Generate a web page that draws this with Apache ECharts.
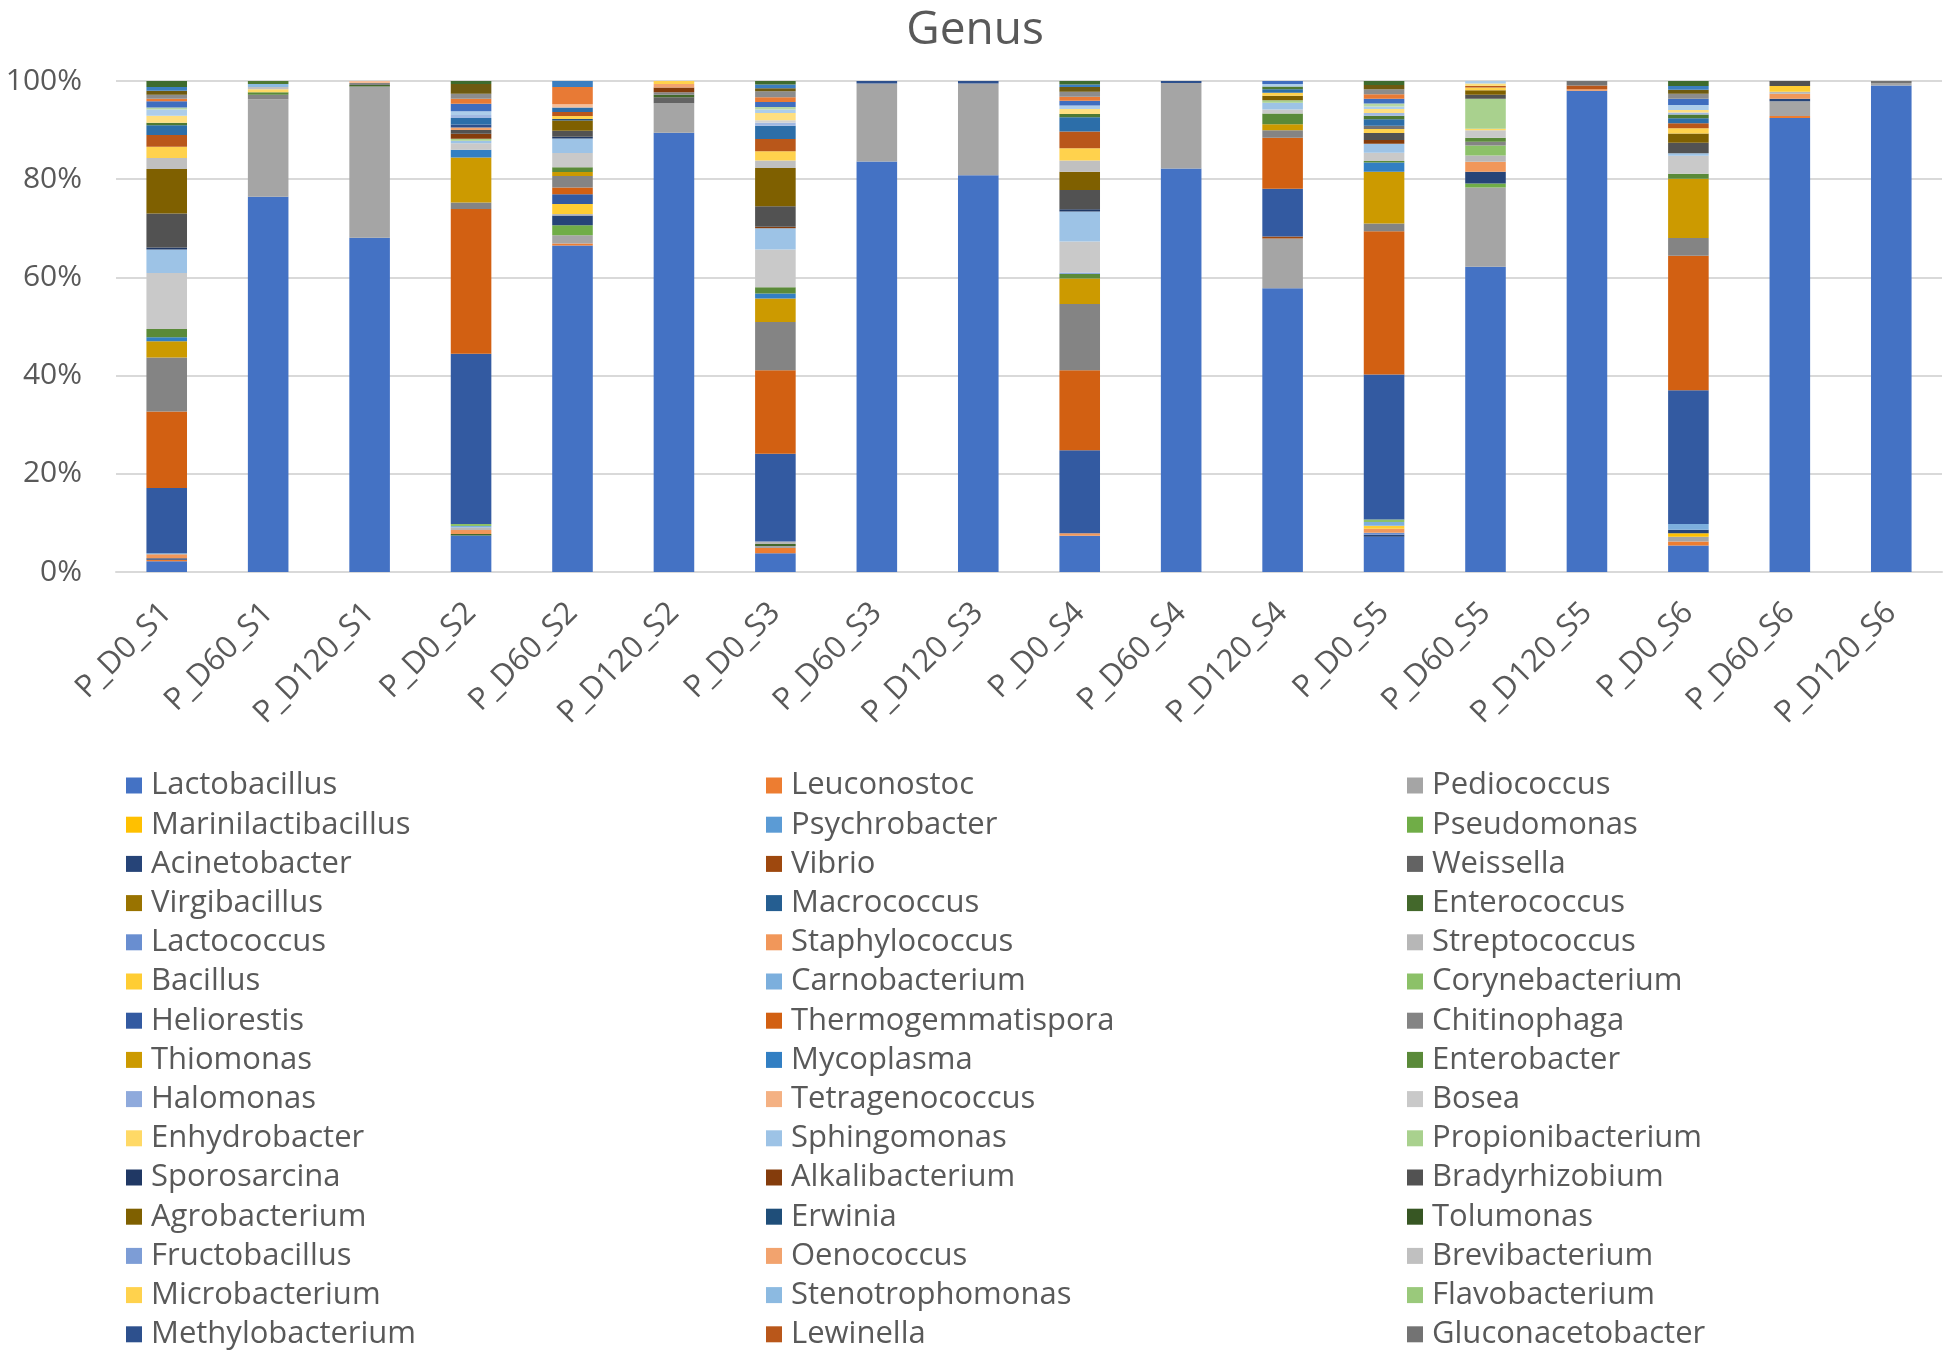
<!DOCTYPE html>
<html>
<head>
<meta charset="utf-8">
<title>Genus</title>
<script src="https://cdn.jsdelivr.net/npm/echarts@6/dist/echarts.min.js"></script>
<style>
  html, body { margin: 0; padding: 0; background: #fff; }
  #main { width: 1950px; height: 1364px; }
</style>
</head>
<body>
<div id="main"></div>
<script>
var samples = ["P_D0_S1", "P_D60_S1", "P_D120_S1", "P_D0_S2", "P_D60_S2", "P_D120_S2",
  "P_D0_S3", "P_D60_S3", "P_D120_S3", "P_D0_S4", "P_D60_S4", "P_D120_S4",
  "P_D0_S5", "P_D60_S5", "P_D120_S5", "P_D0_S6", "P_D60_S6", "P_D120_S6"];

var yTicks = [0, 20, 40, 60, 80, 100];

// relative abundance (%) per sample, one array per genus (legend order = stack order)
var Lactobacillus = [2.2, 76.2, 68.0, 7.4, 66.3, 89.0, 3.8, 83.6, 80.8, 7.4, 82.2, 57.6, 7.2, 61.9, 98.0, 5.4, 92.2, 99.1];
var Leuconostoc = [0.3, 0, 0, 0, 0.4, 0, 1.1, 0, 0, 0, 0, 0, 0, 0, 0, 0.8, 0.4, 0];
var Pediococcus = [0, 19.8, 30.8, 0, 1.7, 6.0, 0.4, 15.9, 18.7, 0, 17.4, 10.1, 0, 16.1, 0, 1.0, 3.0, 0.5];
var Marinilactibacillus = [0, 0, 0, 0, 0, 0, 0, 0, 0, 0, 0, 0, 0, 0, 0, 0.7, 0, 0];
var Psychrobacter = [0, 0, 0, 0, 0, 0, 0, 0, 0, 0, 0, 0, 0, 0, 0, 0, 0, 0];
var Pseudomonas = [0, 0, 0, 0, 2.0, 0, 0, 0, 0, 0, 0, 0, 0, 0.8, 0, 0, 0, 0];
var Acinetobacter = [0.3, 0, 0, 0, 2.0, 0, 0, 0, 0, 0, 0, 0, 0.4, 2.4, 0, 0.7, 0.5, 0];
var Vibrio = [0, 0, 0, 0, 0, 0, 0, 0, 0, 0, 0, 0.4, 0, 0, 0, 0, 0, 0];
var Weissella = [0, 0, 0, 0, 0, 1.2, 0, 0, 0, 0, 0, 0, 0, 0, 0, 0, 0, 0];
var Virgibacillus = [0, 0, 0, 0, 0, 0, 0, 0, 0, 0, 0, 0, 0, 0, 0, 0, 0, 0];
var Macrococcus = [0, 0, 0, 0, 0, 0, 0, 0, 0, 0, 0, 0, 0, 0, 0, 0, 0, 0];
var Enterococcus = [0, 0, 0.3, 0.3, 0, 0.5, 0.4, 0, 0, 0, 0, 0, 0, 0, 0, 0, 0, 0];
var Lactococcus = [0, 0, 0, 0, 0, 0, 0, 0, 0, 0, 0, 0, 0.4, 0, 0, 0, 0, 0];
var Staphylococcus = [0.8, 0, 0, 0.8, 0, 0, 0, 0, 0, 0.5, 0, 0, 0.8, 2.0, 0.3, 0, 1.0, 0];
var Streptococcus = [0, 0, 0, 0.5, 0.3, 0, 0.5, 0, 0, 0, 0, 0, 0, 1.3, 0, 0, 0.4, 0];
var Bacillus = [0, 0, 0, 0, 2.0, 0, 0, 0, 0, 0, 0, 0, 0.6, 0, 0, 0, 1.2, 0];
var Carnobacterium = [0.2, 0, 0, 0.3, 0, 0, 0, 0, 0, 0, 0, 0, 0.8, 0, 0, 1.2, 0, 0];
var Corynebacterium = [0, 0, 0, 0.4, 0, 0, 0, 0, 0, 0, 0, 0, 0.5, 2.0, 0, 0, 0, 0];
var Heliorestis = [13.3, 0, 0, 34.5, 2.0, 0, 17.9, 0, 0, 16.9, 0, 9.7, 29.5, 0, 0, 27.2, 0, 0];
var Thermogemmatispora = [15.6, 0, 0, 29.3, 1.4, 0, 17.0, 0, 0, 16.3, 0, 10.4, 29.2, 0, 0, 27.4, 0, 0];
var Chitinophaga = [11.0, 0.9, 0.4, 1.3, 2.3, 0.5, 9.8, 0, 0, 13.5, 0, 1.5, 1.6, 0.8, 0, 3.6, 0, 0];
var Thiomonas = [3.3, 0, 0, 9.1, 0.8, 0, 4.8, 0, 0, 5.2, 0, 1.2, 10.5, 0, 0, 12.1, 0, 0];
var Mycoplasma = [0.8, 0, 0, 1.6, 0, 0, 1.0, 0, 0, 0, 0, 0, 1.9, 0, 0, 0, 0, 0];
var Enterobacter = [1.7, 0.5, 0, 0, 1.0, 0, 1.3, 0, 0, 0.9, 0, 2.2, 0.3, 0.8, 0, 1.0, 0, 0];
var Halomonas = [0, 0, 0, 0, 0, 0, 0, 0, 0, 0.3, 0, 0, 0, 0, 0, 0, 0, 0];
var Tetragenococcus = [0, 0, 0, 0, 0, 0, 0, 0, 0, 0, 0, 0, 0, 0, 0, 0, 0, 0];
var Bosea = [11.4, 0, 0, 1.3, 2.9, 0, 7.7, 0, 0, 6.3, 0, 0.8, 1.7, 1.5, 0, 3.7, 0, 0];
var Enhydrobacter = [0, 0.6, 0, 0, 0, 0, 0, 0, 0, 0, 0, 0, 0, 0.3, 0, 0, 0, 0];
var Sphingomonas = [4.8, 0, 0, 0.5, 2.9, 0, 4.3, 0, 0, 6.1, 0, 1.4, 1.8, 0, 0, 0.5, 0, 0];
var Propionibacterium = [0, 0, 0, 0.4, 0, 0, 0, 0, 0, 0, 0, 0.5, 0, 6.1, 0, 0, 0, 0];
var Sporosarcina = [0.4, 0, 0, 0, 0.4, 0, 0, 0, 0, 0.5, 0, 0, 0, 0, 0, 0, 0, 0];
var Alkalibacterium = [0, 0, 0, 1.0, 0, 1.0, 0.3, 0, 0, 0, 0, 0, 0.8, 0, 0, 0, 0, 0];
var Bradyrhizobium = [6.9, 0, 0, 0.8, 1.2, 0, 4.2, 0, 0, 3.9, 0, 0, 1.4, 0.8, 0, 2.1, 1.0, 0];
var Agrobacterium = [9.1, 0, 0, 0, 2.1, 0, 7.8, 0, 0, 3.7, 0, 0.9, 0, 0.9, 0, 1.9, 0, 0];
var Erwinia = [0, 0, 0, 0, 0.3, 0, 0, 0, 0, 0, 0, 0, 0, 0, 0, 0, 0, 0];
var Tolumonas = [0, 0, 0, 0, 0, 0, 0, 0, 0, 0, 0, 0, 0, 0, 0, 0, 0, 0];
var Fructobacillus = [0, 0, 0, 0, 0, 0, 0, 0, 0, 0, 0, 0, 0, 0, 0, 0, 0, 0];
var Oenococcus = [0, 0, 0, 0.5, 0, 0.7, 0, 0, 0, 0, 0, 0, 0, 0, 0, 0, 0, 0];
var Brevibacterium = [2.2, 0.5, 0, 0, 0, 0, 1.5, 0, 0, 2.3, 0, 0, 0, 0, 0, 0, 0, 0];
var Microbacterium = [2.3, 0, 0, 0, 0.6, 0.6, 1.9, 0, 0, 2.5, 0, 0.6, 0.8, 0.6, 0, 1.1, 0, 0];
var Stenotrophomonas = [0, 0.6, 0, 0, 0, 0, 0, 0, 0, 0, 0, 0, 0, 0, 0, 0, 0, 0];
var Flavobacterium = [0, 0, 0, 0, 0, 0, 0, 0, 0, 0, 0, 0, 0, 0, 0, 0, 0, 0];
var Methylobacterium = [0, 0, 0, 0.6, 0, 0, 0, 0.5, 0.5, 0, 0.4, 0, 0, 0, 0, 0, 0, 0];
var Lewinella = [2.4, 0, 0, 0, 0.8, 0, 2.5, 0, 0, 3.4, 0, 0, 0, 0.3, 0.8, 1.0, 0, 0];
var Gluconacetobacter = [0, 0, 0, 0, 0, 0, 0, 0, 0, 0, 0, 0, 0.7, 0, 0.9, 0, 0, 0.4];

// minor genera stacked on top whose names the legend leaves out
var extra47 = [2.0, 0, 0, 1.3, 0.9, 0, 2.7, 0, 0, 2.9, 0, 0.7, 1.3, 0, 0, 1.0, 0, 0];
var extra48 = [0.5, 0.6, 0, 0, 0, 0, 0, 0, 0, 0.7, 0, 0.6, 0.7, 0, 0, 0.8, 0, 0];
var extra49 = [0, 0, 0, 0.6, 0, 0, 0.6, 0, 0, 0, 0, 0, 0.6, 0, 0, 0.4, 0, 0];
var extra50 = [0, 0, 0.4, 0, 0.7, 0, 0, 0, 0, 0, 0, 0, 0, 0, 0, 0, 0, 0];
var extra51 = [0, 0, 0, 0, 0, 0, 0.5, 0, 0, 0, 0, 0, 0, 0, 0, 0, 0, 0];
var extra52 = [1.4, 0, 0, 0, 0, 0, 1.5, 0, 0, 1.0, 0, 0, 0.8, 0.5, 0, 0.5, 0, 0];
var extra53 = [1.3, 0, 0, 0.8, 0, 0, 0.7, 0, 0, 0.7, 0, 0.5, 0.5, 0.5, 0, 1.0, 0, 0];
var extra54 = [0.4, 0, 0, 0, 0, 0, 0.5, 0, 0, 0, 0, 0, 0.6, 0, 0, 0, 0, 0];
var extra55 = [1.3, 0, 0, 1.5, 0, 0, 1.0, 0, 0, 1.0, 0, 0.6, 1.0, 0, 0, 1.3, 0, 0];
var extra56 = [0.5, 0, 0, 1.0, 3.5, 0, 1.0, 0, 0, 0.8, 0, 0, 0.9, 0, 0, 0, 0, 0];
var extra57 = [0.8, 0, 0, 1.0, 0, 0, 1.2, 0, 0, 1.0, 0, 0, 1.0, 0, 0, 1.0, 0, 0];
var extra58 = [0.8, 0, 0, 2.0, 0, 0, 0.6, 0, 0, 1.0, 0, 0, 0.9, 0, 0, 0.8, 0, 0];
var extra59 = [0.8, 0, 0, 0, 1.2, 0, 0.8, 0, 0, 0.5, 0, 0, 0, 0, 0, 0.8, 0, 0];
var extra60 = [1.2, 0, 0, 0.6, 0, 0, 0.7, 0, 0, 0.7, 0, 0, 0.8, 0, 0, 1.0, 0, 0];

var genera = ["Lactobacillus", "Leuconostoc", "Pediococcus", "Marinilactibacillus", "Psychrobacter", "Pseudomonas",
  "Acinetobacter", "Vibrio", "Weissella", "Virgibacillus", "Macrococcus", "Enterococcus",
  "Lactococcus", "Staphylococcus", "Streptococcus", "Bacillus", "Carnobacterium", "Corynebacterium",
  "Heliorestis", "Thermogemmatispora", "Chitinophaga", "Thiomonas", "Mycoplasma", "Enterobacter",
  "Halomonas", "Tetragenococcus", "Bosea", "Enhydrobacter", "Sphingomonas", "Propionibacterium",
  "Sporosarcina", "Alkalibacterium", "Bradyrhizobium", "Agrobacterium", "Erwinia", "Tolumonas",
  "Fructobacillus", "Oenococcus", "Brevibacterium", "Microbacterium", "Stenotrophomonas", "Flavobacterium",
  "Methylobacterium", "Lewinella", "Gluconacetobacter"];

var genusValues = [Lactobacillus, Leuconostoc, Pediococcus, Marinilactibacillus, Psychrobacter, Pseudomonas,
  Acinetobacter, Vibrio, Weissella, Virgibacillus, Macrococcus, Enterococcus,
  Lactococcus, Staphylococcus, Streptococcus, Bacillus, Carnobacterium, Corynebacterium,
  Heliorestis, Thermogemmatispora, Chitinophaga, Thiomonas, Mycoplasma, Enterobacter,
  Halomonas, Tetragenococcus, Bosea, Enhydrobacter, Sphingomonas, Propionibacterium,
  Sporosarcina, Alkalibacterium, Bradyrhizobium, Agrobacterium, Erwinia, Tolumonas,
  Fructobacillus, Oenococcus, Brevibacterium, Microbacterium, Stenotrophomonas, Flavobacterium,
  Methylobacterium, Lewinella, Gluconacetobacter];

var extraValues = [extra47, extra48, extra49, extra50, extra51, extra52, extra53,
  extra54, extra55, extra56, extra57, extra58, extra59, extra60];

// office-like palette, 6 accents and their shades
var genusColors = ["#4472C4", "#ED7D31", "#A5A5A5", "#FFC000", "#5B9BD5", "#70AD47",
  "#264478", "#9E480E", "#636363", "#997300", "#255E91", "#43682B",
  "#698ED0", "#F1975A", "#B7B7B7", "#FFCD33", "#7CAFDD", "#8CC168",
  "#335AA1", "#D26012", "#848484", "#CC9A00", "#327FC3", "#5A8A39",
  "#8FAADC", "#F4B183", "#C9C9C9", "#FFD966", "#9DC3E6", "#A9D18E",
  "#203864", "#843C0C", "#525252", "#7F6000", "#1F4E79", "#375623",
  "#7D9DD6", "#F2A36E", "#C0C0C0", "#FFD24D", "#8CBAE1", "#9AC97B",
  "#2D508D", "#B9571A", "#737373"];
var extraColors = ["#2C6EA9", "#4E7932", "#A2B9E2", "#F6BE98", "#D2D2D2", "#FFDF80", "#ADCDEA",
  "#B7D6A3", "#3F6DBF", "#E87A35", "#8C8C8C", "#6E5A10", "#3B7EC0", "#3E6B2E"];

var font = "'Open Sans', 'Liberation Sans', sans-serif";
var textColor = "#595959";
var gridColor = "#D9D9D9";

// 100% stacked: scale each sample to its total
var allValues = genusValues.concat(extraValues);
var totals = samples.map(function (s, i) {
  var t = 0;
  allValues.forEach(function (v) { t += v[i]; });
  return t;
});

function toPercent(v) {
  return v.map(function (x, i) { return totals[i] ? x / totals[i] * 100 : 0; });
}

var series = [];
genusValues.forEach(function (v, k) {
  series.push({
    name: genera[k], type: "bar", stack: "total", barCategoryGap: "60%",
    data: toPercent(v), itemStyle: {color: genusColors[k]}
  });
});
extraValues.forEach(function (v, k) {
  series.push({
    name: "unlisted " + (k + 47), type: "bar", stack: "total", barCategoryGap: "60%",
    data: toPercent(v), itemStyle: {color: extraColors[k]}
  });
});

var legendLeft = [121, 761, 1402];
var legends = legendLeft.map(function (x, col) {
  return {
    orient: "vertical", left: x, top: 765, height: 640,
    data: genera.filter(function (g, i) { return i % 3 === col; }),
    icon: "rect", itemWidth: 16, itemHeight: 16, itemGap: 8.2,
    selectedMode: false,
    textStyle: {fontFamily: font, fontSize: 31, color: textColor, lineHeight: 30, padding: [0, 0, 0, 4]}
  };
});

var chart = echarts.init(document.getElementById("main"));
chart.setOption({
  animation: false,
  backgroundColor: "#fff",
  title: {
    text: "Genus", left: "center", top: 3,
    textStyle: {fontFamily: font, fontSize: 46, fontWeight: "normal", color: textColor}
  },
  legend: legends,
  grid: {left: 116, right: 8, top: 81, bottom: 792},
  xAxis: {
    type: "category", data: samples,
    axisLine: {lineStyle: {color: gridColor, width: 2}},
    axisTick: {show: false},
    axisLabel: {rotate: 45, margin: 36, fontFamily: font, fontSize: 31, color: textColor}
  },
  yAxis: {
    type: "value", min: yTicks[0], max: yTicks[yTicks.length - 1], interval: yTicks[1] - yTicks[0],
    axisLine: {show: false}, axisTick: {show: false},
    axisLabel: {formatter: "{value}%", margin: 34, fontFamily: font, fontSize: 30, color: textColor},
    splitLine: {lineStyle: {color: gridColor, width: 2}}
  },
  series: series
});
</script>
</body>
</html>
